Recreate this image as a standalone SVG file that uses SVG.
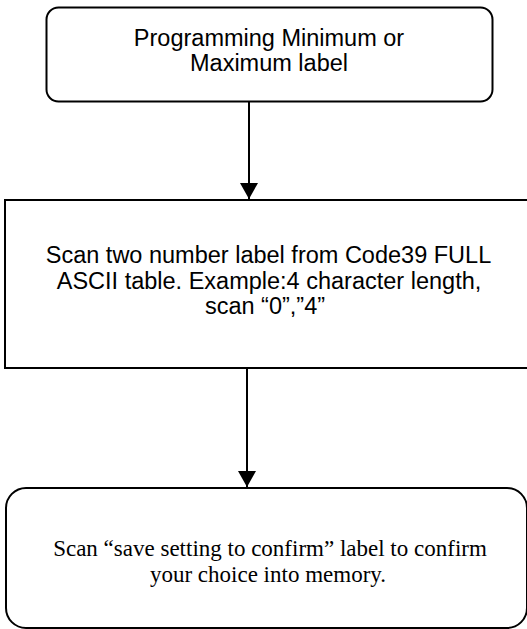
<svg xmlns="http://www.w3.org/2000/svg" width="527" height="629" viewBox="0 0 527 629">
<style>
.box{fill:#fff;stroke:#000;stroke-width:2}
.sans{font-family:"Liberation Sans",Arial,sans-serif;font-size:23.5px;fill:#000;text-anchor:middle}
.serif{font-family:"Liberation Serif","Times New Roman",serif;font-size:23px;fill:#000;text-anchor:middle}
.conn{stroke:#000;stroke-width:2;fill:none}
</style>
<defs>
<marker id="ah" markerWidth="8" markerHeight="9" refX="8" refY="4.5" orient="auto" markerUnits="strokeWidth">
<path d="M0,0 L8,4.5 L0,9 Z" fill="#000"/>
</marker>
</defs>
<rect width="527" height="629" fill="#fff"/>
<g id="connectors">
<line class="conn" x1="249" y1="102" x2="249" y2="199" marker-end="url(#ah)"/>
<line class="conn" x1="247" y1="368" x2="247" y2="487" marker-end="url(#ah)"/>
</g>
<g id="node-start">
<rect class="box" x="46.5" y="7.5" width="446" height="94" rx="12"/>
<text class="sans" x="269" y="46">Programming Minimum or</text>
<text class="sans" x="269" y="71">Maximum label</text>
</g>
<g id="node-scan">
<rect class="box" x="5" y="200" width="530" height="168"/>
<text class="sans" x="268.5" y="263">Scan two number label from Code39 FULL</text>
<text class="sans" x="269" y="289">ASCII table. Example:4 character length,</text>
<text class="sans" x="265" y="314">scan “0”,”4”</text>
</g>
<g id="node-save">
<rect class="box" x="6" y="488" width="521" height="140" rx="20"/>
<text class="serif" x="270" y="556">Scan “save setting to confirm” label to confirm</text>
<text class="serif" x="268" y="582">your choice into memory.</text>
</g>
</svg>
